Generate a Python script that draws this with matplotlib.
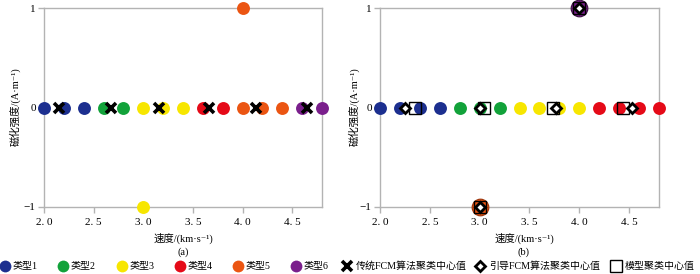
import matplotlib
matplotlib.use("Agg")
import matplotlib.pyplot as plt

plt.rcParams['font.family'] = ['Liberation Serif', 'DejaVu Serif', 'Noto Sans CJK SC']
plt.rcParams['axes.unicode_minus'] = True

# ---------------- data ----------------
type_names = ["类型1", "类型2", "类型3", "类型4", "类型5", "类型6"]
type_colors = ["#1c2f8f", "#12a23a", "#f7e600", "#e50a18", "#eb5512", "#7a1f8c"]

a_speed = [2.0, 2.2, 2.4, 2.6, 2.8, 3.0, 3.2, 3.4, 3.6, 3.8, 4.0, 4.2, 4.4, 4.6, 4.8, 3.0, 4.0]
a_mag = [0, 0, 0, 0, 0, 0, 0, 0, 0, 0, 0, 0, 0, 0, 0, -1, 1]
a_type = [1, 1, 1, 2, 2, 3, 3, 3, 4, 4, 5, 5, 5, 6, 6, 3, 5]

b_speed = [2.0, 2.2, 2.4, 2.6, 2.8, 3.0, 3.2, 3.4, 3.6, 3.8, 4.0, 4.2, 4.4, 4.6, 4.8, 4.0, 3.0]
b_mag = [0, 0, 0, 0, 0, 0, 0, 0, 0, 0, 0, 0, 0, 0, 0, 1, -1]
b_type = [1, 1, 1, 1, 2, 2, 2, 3, 3, 3, 3, 4, 4, 4, 4, 6, 5]

fcm_x = [2.15, 2.67, 3.16, 3.66, 4.14, 4.65]
fcm_y = [0, 0, 0, 0, 0, 0]

guided_x = [2.25, 3.0, 3.77, 4.53, 4.0, 3.0]
guided_y = [0, 0, 0, 0, 1, -1]

model_x = [2.35, 3.04, 3.74, 4.44, 4.0, 3.0]
model_y = [0, 0, 0, 0, 1, -1]

xticks = [2.0, 2.5, 3.0, 3.5, 4.0, 4.5]
xtick_labels = ["2. 0", "2. 5", "3. 0", "3. 5", "4. 0", "4. 5"]
yticks = [-1, 0, 1]
ytick_labels = ["\u22121", "0", "1"]

xlabel = "速度/(km·s\u207b\u00b9)"
ylabel = "磁化强度/(A·m\u207b\u00b9)"
legend_fcm = "传统FCM算法聚类中心值"
legend_guided = "引导FCM算法聚类中心值"
legend_model = "模型聚类中心值"

# ---------------- figure ----------------
W, H = 700, 274
fig = plt.figure(figsize=(W / 100, H / 100), dpi=100)

def px_axes(l, r, t, b):
    return fig.add_axes([l / W, (H - b) / H, (r - l) / W, (b - t) / H])

FS = 7.5
LFS = 7.2
spine_c = "#b3b3b3"

def style(ax):
    ax.set_xlim(2.0, 4.8)
    ax.set_ylim(-1, 1)
    for s in ax.spines.values():
        s.set_color(spine_c)
        s.set_linewidth(1.0)
    ax.set_xticks(xticks)
    ax.set_xticklabels(xtick_labels, fontsize=8)
    ax.set_yticks(yticks)
    ax.set_yticklabels(ytick_labels, fontsize=8)
    ax.tick_params(axis='both', direction='out', length=4, width=1, color=spine_c, pad=2)
    ax.tick_params(axis='x', pad=4)
    ax.set_facecolor("white")

MS = 9.3

axa = px_axes(44, 322, 8, 207)
style(axa)
for x, y, t in zip(a_speed, a_mag, a_type):
    axa.plot([x], [y], 'o', ms=MS, mfc=type_colors[t - 1], mec='none', clip_on=False, zorder=3)
axa.plot(fcm_x, fcm_y, 'x', ms=7, mew=2.6, color='black', ls='none', clip_on=False, zorder=4)

axb = px_axes(380, 659, 8, 207)
style(axb)
for x, y, t in zip(b_speed, b_mag, b_type):
    if y != 0:
        axb.plot([x], [y], 'o', ms=12, mfc=type_colors[t - 1], mec='#3a1040' if t == 6 else '#9a3208',
                 mew=0.8, clip_on=False, zorder=3)
    else:
        axb.plot([x], [y], 'o', ms=MS, mfc=type_colors[t - 1], mec='none', clip_on=False, zorder=3)
axb.plot(model_x, model_y, 's', ms=8, mfc='none', mec='black', mew=1.0, ls='none', clip_on=False, zorder=4)
axb.plot(guided_x, guided_y, 'D', ms=5, mfc='white', mec='black', mew=2.0, ls='none', clip_on=False, zorder=5)

for cx, tag in [(183, "(a)"), (524, "(b)")]:
    fig.text(cx / W, 1 - 238 / H, xlabel, ha='center', va='center', fontsize=FS)
    fig.text(cx / W, 1 - 252 / H, tag, ha='center', va='center', fontsize=FS)

fig.text(15 / W, 1 - 107 / H, ylabel, ha='center', va='center', rotation=90, fontsize=FS)
fig.text(354 / W, 1 - 107 / H, ylabel, ha='center', va='center', rotation=90, fontsize=FS)

# ---------------- legend (manual row) ----------------
lg = fig.add_axes([0, 0, 1, 1], facecolor='none')
lg.set_xlim(0, W)
lg.set_ylim(H, 0)
lg.axis('off')
LY = 266
type_pos = [5, 63, 122, 180, 238, 296]
for n, c, px in zip(type_names, type_colors, type_pos):
    lg.plot([px], [LY], 'o', ms=8.5, mfc=c, mec='none', clip_on=False)
    lg.text(px + 8, LY, n, ha='left', va='center', fontsize=LFS)
lg.plot([347], [LY], 'x', ms=7, mew=2.6, color='black', clip_on=False)
lg.text(356, LY, legend_fcm, ha='left', va='center', fontsize=LFS)
lg.plot([480], [LY], 'D', ms=5, mew=2.0, mfc='white', mec='black', clip_on=False)
lg.text(489, LY, legend_guided, ha='left', va='center', fontsize=LFS)
lg.plot([616], [LY], 's', ms=9, mew=1.0, mfc='none', mec='black', clip_on=False)
lg.text(625, LY, legend_model, ha='left', va='center', fontsize=LFS)

fig.savefig("out.png", dpi=100)
